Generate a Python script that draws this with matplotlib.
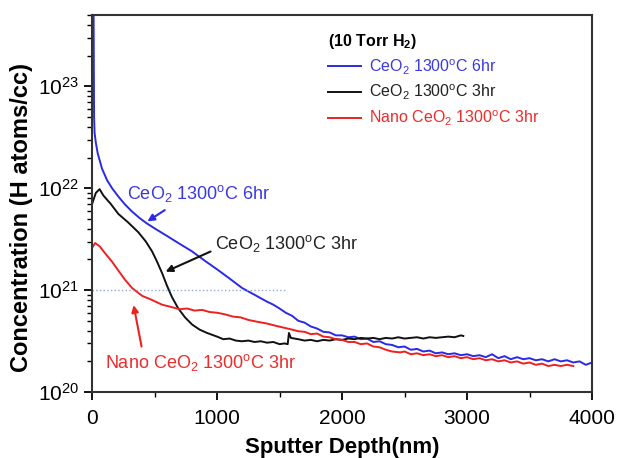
import matplotlib.pyplot as plt
import numpy as np

plt.rcParams['font.family'] = ['Liberation Sans', 'DejaVu Sans']
plt.rcParams['mathtext.fontset'] = 'custom'
plt.rcParams['mathtext.rm'] = 'Liberation Sans'
plt.rcParams['mathtext.bf'] = 'Liberation Sans:bold'

# --- data (depth in nm, concentration in H atoms/cc) ---
blue_depth = [0, 12, 14, 16, 20, 30, 45, 80, 120, 160, 210, 260, 320, 380, 440, 520, 600,
              700, 800, 900, 1000, 1100, 1200, 1300, 1400, 1450,
              1500, 1550, 1600, 1650, 1700, 1750, 1800, 1850, 1900, 1950, 2000, 2050,
              2100, 2150, 2200, 2250, 2300, 2350, 2400, 2450, 2500, 2550, 2600, 2650,
              2700, 2750, 2800, 2850, 2900, 2950, 3000, 3050, 3100, 3150, 3200, 3250,
              3300, 3350, 3400, 3450, 3500, 3550, 3600, 3650, 3700, 3750, 3800, 3850,
              3900, 3950, 4000]
blue_conc = [6e23, 6e23, 1.5e23, 5e22, 3.5e22, 2.8e22, 2.2e22, 1.55e22, 1.2e22, 1.0e22, 8.3e21,
             7.0e21, 5.9e21, 5.1e21, 4.5e21, 3.9e21, 3.4e21,
             2.85e21, 2.4e21, 1.95e21, 1.6e21, 1.3e21, 1.05e21, 9.0e20, 7.7e20, 7.2e20,
             6.6e20, 6.0e20, 5.6e20, 5.0e20, 4.8e20, 4.4e20, 4.2e20, 3.9e20, 3.85e20,
             3.6e20, 3.6e20, 3.45e20, 3.5e20, 3.3e20, 3.35e20, 3.1e20, 3.15e20, 2.95e20,
             2.9e20, 2.75e20, 2.8e20, 2.6e20, 2.65e20, 2.5e20, 2.55e20, 2.4e20, 2.45e20,
             2.35e20, 2.4e20, 2.3e20, 2.35e20, 2.25e20, 2.3e20, 2.2e20, 2.35e20, 2.15e20,
             2.25e20, 2.1e20, 2.2e20, 2.1e20, 2.15e20, 2.05e20, 2.1e20, 2.0e20, 2.1e20,
             2.0e20, 2.05e20, 1.95e20, 2.0e20, 1.85e20, 1.95e20]

black_depth = [0, 30, 60, 90, 150, 210, 290, 370, 430, 480, 520, 560, 600, 640, 690,
               744, 800, 860, 920, 1000, 1050, 1100, 1150, 1200, 1250, 1300, 1350, 1400,
               1450, 1500, 1540, 1565, 1575, 1590, 1650, 1700, 1750, 1800, 1850, 1900,
               1950, 2000, 2050, 2100, 2150, 2200, 2250, 2300, 2350, 2400, 2450, 2500,
               2550, 2600, 2650, 2700, 2750, 2800, 2850, 2900, 2950, 2970]
black_conc = [7.0e21, 9.0e21, 9.8e21, 8.5e21, 7.0e21, 5.6e21, 4.6e21, 3.7e21, 3.0e21,
              2.4e21, 1.9e21, 1.47e21, 1.1e21, 8.5e20, 6.6e20,
              5.4e20, 4.6e20, 4.1e20, 3.8e20, 3.5e20, 3.3e20, 3.35e20, 3.2e20, 3.15e20,
              3.2e20, 3.1e20, 3.15e20, 3.05e20, 3.1e20, 2.95e20, 3.0e20, 2.95e20, 3.8e20,
              3.4e20, 3.3e20, 3.2e20, 3.25e20, 3.15e20, 3.25e20, 3.2e20,
              3.3e20, 3.25e20, 3.35e20, 3.3e20, 3.4e20, 3.35e20, 3.4e20, 3.3e20, 3.4e20,
              3.35e20, 3.45e20, 3.35e20, 3.4e20, 3.45e20, 3.35e20, 3.45e20, 3.4e20,
              3.45e20, 3.5e20, 3.45e20, 3.6e20, 3.55e20]

red_depth = [0, 24, 60, 104, 160, 208, 260, 320, 400, 480, 560, 640, 700, 760, 820,
             880, 940, 1000, 1060, 1128, 1190, 1250, 1320, 1400, 1460, 1528, 1600, 1650,
             1700, 1750, 1800, 1850, 1900, 1950, 2000, 2050, 2100, 2150, 2200, 2250,
             2300, 2350, 2400, 2464, 2500, 2550, 2600, 2650, 2700, 2750, 2800, 2850,
             2900, 2950, 3000, 3050, 3100, 3150, 3200, 3250, 3300, 3350, 3400, 3450,
             3500, 3550, 3600, 3650, 3700, 3750, 3800, 3850]
red_conc = [2.6e21, 2.9e21, 2.7e21, 2.3e21, 1.9e21, 1.57e21, 1.28e21, 1.05e21, 8.8e20,
            8.0e20, 7.2e20, 6.8e20, 6.5e20, 6.6e20, 6.3e20,
            6.4e20, 6.1e20, 6.0e20, 5.8e20, 5.5e20, 5.4e20, 5.1e20, 4.9e20, 4.7e20,
            4.5e20, 4.3e20, 4.1e20, 3.95e20, 3.9e20, 3.7e20, 3.75e20, 3.5e20, 3.45e20,
            3.3e20, 3.25e20, 3.1e20, 3.1e20, 2.95e20, 3.0e20, 2.8e20, 2.75e20, 2.6e20,
            2.5e20, 2.45e20, 2.5e20, 2.35e20, 2.4e20, 2.3e20, 2.35e20, 2.25e20, 2.3e20,
            2.2e20, 2.25e20, 2.15e20, 2.2e20, 2.1e20, 2.15e20, 2.05e20, 2.1e20, 2.0e20,
            2.05e20, 1.95e20, 2.0e20, 1.9e20, 1.95e20, 1.85e20, 1.9e20, 1.8e20, 1.85e20,
            1.8e20, 1.85e20, 1.8e20]

ref_level = 1e21
ref_end = 1560

labels = ['CeO$_2$ 1300$^\\mathrm{o}$C 6hr', 'CeO$_2$ 1300$^\\mathrm{o}$C 3hr',
          'Nano CeO$_2$ 1300$^\\mathrm{o}$C 3hr']
colors = ['#2a2ae6', '#111111', '#ee2020']
text_colors = ['#3a3ae0', '#222222', '#ee2a2a']

fig = plt.figure(figsize=(6.18, 4.58), dpi=100)
ax = fig.add_axes([0.149, 0.144, 0.809, 0.823])

ax.plot(blue_depth, blue_conc, color=colors[0], lw=1.4, label=labels[0])
ax.plot(black_depth, black_conc, color=colors[1], lw=1.4, label=labels[1])
ax.plot(red_depth, red_conc, color=colors[2], lw=1.4, label=labels[2])
ax.plot([0, ref_end], [ref_level, ref_level], ls=':', color='#8fa8dc', lw=1.0)

ax.set_yscale('log')
ax.set_xlim(0, 4000)
ax.set_ylim(1e20, 5e23)
ax.set_xticks([0, 1000, 2000, 3000, 4000])
ax.set_xticks([500, 1500, 2500, 3500], minor=True)
ax.tick_params(which='major', direction='out', length=6, width=1.3, labelsize=15)
ax.tick_params(axis='x', which='major', pad=6)
ax.tick_params(which='minor', direction='out', length=3.5, width=1.0)
for s in ax.spines.values():
    s.set_linewidth(1.5)
    s.set_color('#333333')

ax.set_xlabel('Sputter Depth(nm)', fontsize=16, fontweight='bold', labelpad=7)
ax.set_ylabel('Concentration (H atoms/cc)', fontsize=17, fontweight='bold')
ax.yaxis.set_label_coords(-0.118, 0.464)

# annotations
ax.text(280, 10**21.95, labels[0], color=text_colors[0], fontsize=13, ha='left', va='center')
ax.annotate('', xy=(424, 10**21.66), xytext=(600, 10**21.80),
            arrowprops=dict(arrowstyle='-|>', color=colors[0], lw=1.5, mutation_scale=10))
ax.text(984, 10**21.46, labels[1], color=text_colors[1], fontsize=13, ha='left', va='center')
ax.annotate('', xy=(568, 10**21.17), xytext=(968, 10**21.39),
            arrowprops=dict(arrowstyle='-|>', color=colors[1], lw=1.5, mutation_scale=10))
ax.text(104, 10**20.29, labels[2], color=text_colors[2], fontsize=13, ha='left', va='center')
ax.annotate('', xy=(328, 10**20.88), xytext=(400, 10**20.42),
            arrowprops=dict(arrowstyle='-|>', color=colors[2], lw=1.5, mutation_scale=10))

leg = ax.legend(loc='upper left', bbox_to_anchor=(0.462, 0.968), frameon=False,
                title='(10 Torr H$_\\mathbf{2}$)', alignment='left', fontsize=11.5,
                handlelength=2.1, handletextpad=0.5, labelspacing=0.4, borderpad=0.3,
                borderaxespad=0)
leg.get_title().set_fontweight('bold')
leg.get_title().set_fontsize(11.5)
for t, c in zip(leg.get_texts(), text_colors):
    t.set_color(c)

fig.savefig('out.png', dpi=100)
